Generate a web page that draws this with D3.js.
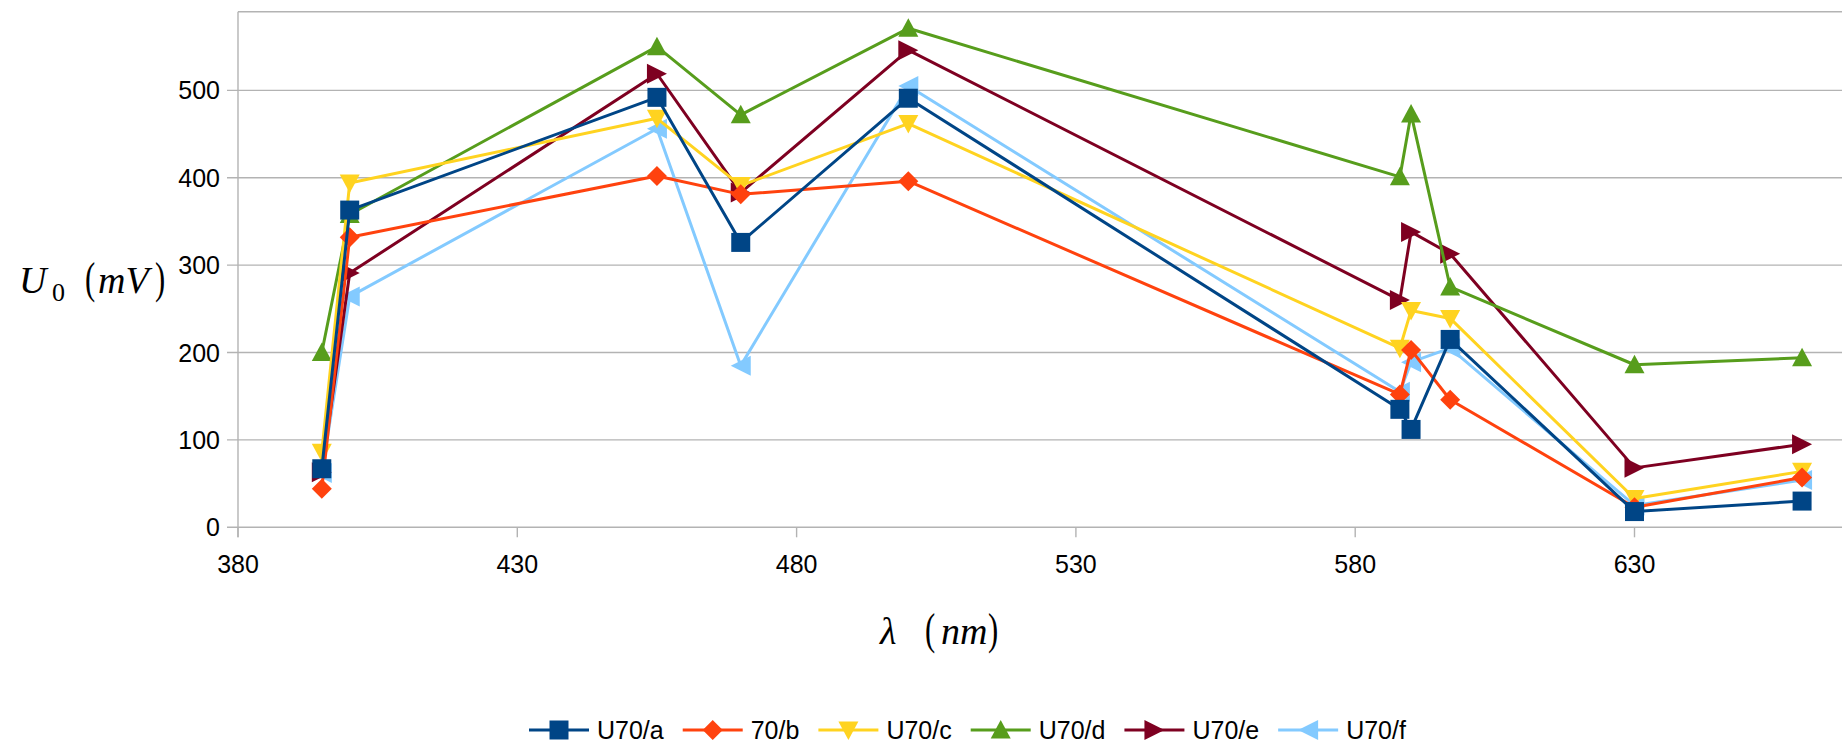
<!DOCTYPE html>
<html>
<head>
<meta charset="utf-8">
<script src="https://cdn.jsdelivr.net/npm/d3@7"></script>
<style>
  html, body { margin: 0; padding: 0; background: #fff; }
  svg { display: block; }
</style>
</head>
<body>
<svg id="chart" width="1842" height="745"></svg>
<script>
// ---- data ----
const wavelengths = [395, 400, 455, 470, 500, 588, 590, 597, 630, 660];
const seriesNames = ["U70/a", "70/b", "U70/c", "U70/d", "U70/e", "U70/f"];
const u70a = [67, 363, 492, 326, 491, 135, 112, 215, 18, 30];
const s70b = [44, 332, 402, 381, 396, 152, 203, 146, 23, 57];
const u70c = [86, 394, 468, 391, 462, 205, 248, 239, 33, 64];
const u70d = [200, 358, 550, 472, 571, 401, 473, 275, 186, 194];
const u70e = [63, 291, 519, 383, 546, 260, 338, 313, 68, 95];
const u70f = [62, 264, 456, 185, 505, 155, 189, 205, 25, 54];
const xTicks = [380, 430, 480, 530, 580, 630];
const yTicks = [0, 100, 200, 300, 400, 500];

(function () {
const seriesValues = [u70a, s70b, u70c, u70d, u70e, u70f];
const colors = ["#004586", "#ff420e", "#ffd320", "#579d1c", "#7e0021", "#83caff"];
const shapes = ["square", "diamond", "down", "up", "right", "left"];

function symbolPath(shape) {
  const h = 10;
  switch (shape) {
    case "square": { const s = 9.5; return `M${-s},${-s}H${s}V${s}H${-s}Z`; }
    case "diamond": return `M0,${-h}L${h},0L0,${h}L${-h},0Z`;
    case "up": return `M0,${-h}L${h},${h*0.85}L${-h},${h*0.85}Z`;
    case "down": return `M${-h},${-h*0.85}L${h},${-h*0.85}L0,${h}Z`;
    case "right": return `M${-h},${-h}L${h},0L${-h},${h}Z`;
    case "left": return `M${h},${-h}L${-h},0L${h},${h}Z`;
  }
}

const svg = d3.select("#chart");
const plotLeft = 238, plotTop = 11.7, plotBottom = 527.3;
const pxPerNm = 5.586;
const x = d3.scaleLinear().domain([380, 680]).range([plotLeft, plotLeft + 300 * pxPerNm]);
const y = d3.scaleLinear().domain([0, 590]).range([plotBottom, plotTop]);
const gridColor = "#b3b3b3";

// gridlines
svg.append("g").selectAll("line").data(yTicks.concat([590])).join("line")
  .attr("x1", d => d === 590 ? plotLeft : plotLeft - 11).attr("x2", 1842)
  .attr("y1", d => y(d)).attr("y2", d => y(d))
  .attr("stroke", gridColor).attr("stroke-width", 1.4);

// y axis line
svg.append("line").attr("x1", plotLeft).attr("x2", plotLeft).attr("y1", plotTop).attr("y2", plotBottom + 10)
  .attr("stroke", gridColor).attr("stroke-width", 1.4);

// x ticks
svg.append("g").selectAll("line").data(xTicks).join("line")
  .attr("x1", d => x(d)).attr("x2", d => x(d))
  .attr("y1", plotBottom).attr("y2", plotBottom + 10)
  .attr("stroke", gridColor).attr("stroke-width", 1.4);

const tickFont = "'Liberation Sans', Arial, sans-serif";
svg.append("g").selectAll("text").data(xTicks).join("text")
  .attr("x", d => x(d)).attr("y", 573)
  .attr("text-anchor", "middle")
  .attr("font-family", tickFont).attr("font-size", 25).attr("fill", "#000")
  .text(d => d);

svg.append("g").selectAll("text").data(yTicks).join("text")
  .attr("x", 220).attr("y", d => y(d) + 9)
  .attr("text-anchor", "end")
  .attr("font-family", tickFont).attr("font-size", 25).attr("fill", "#000")
  .text(d => d);

// axis titles (formula style)
const serif = "'Liberation Serif', 'Times New Roman', serif";
function paren(g, ch, px, base) {
  g.append("text").attr("transform", `translate(${px},${base}) scale(0.85,1.25)`)
    .attr("font-family", serif).attr("font-size", 36).text(ch);
}
const yl = svg.append("g");
yl.append("text").attr("x", 19).attr("y", 293).attr("font-family", serif)
  .attr("font-style", "italic").attr("font-size", 38).text("U");
yl.append("text").attr("x", 52).attr("y", 301).attr("font-family", serif)
  .attr("font-size", 26).text("0");
paren(yl, "(", 85, 293);
yl.append("text").attr("x", 98).attr("y", 293).attr("font-family", serif)
  .attr("font-style", "italic").attr("font-size", 38).text("mV");
paren(yl, ")", 155, 293);

const xl = svg.append("g");
xl.append("text").attr("x", 880).attr("y", 644).attr("font-family", serif)
  .attr("font-style", "italic").attr("font-size", 38).text("λ");
paren(xl, "(", 925, 644);
xl.append("text").attr("x", 941).attr("y", 644).attr("font-family", serif)
  .attr("font-style", "italic").attr("font-size", 38).text("nm");
paren(xl, ")", 988, 644);

// series (drawn last-to-first so the first series sits on top)
const plot = svg.append("g");
const line = d3.line().x(d => x(d[0])).y(d => y(d[1]));
for (let i = seriesNames.length - 1; i >= 0; i--) {
  const pts = wavelengths.map((w, j) => [w, seriesValues[i][j]]);
  const g = plot.append("g");
  g.append("path").datum(pts).attr("d", line)
    .attr("fill", "none").attr("stroke", colors[i]).attr("stroke-width", 3)
    .attr("stroke-linejoin", "round");
  g.selectAll("path.m").data(pts).join("path").attr("class", "m")
    .attr("transform", d => `translate(${x(d[0])},${y(d[1])})`)
    .attr("d", symbolPath(shapes[i])).attr("fill", colors[i]);
}

// legend
const lg = svg.append("g");
let lx = 529;
const ly = 730;
seriesNames.forEach((name, i) => {
  const item = lg.append("g");
  item.append("line").attr("x1", lx).attr("x2", lx + 60).attr("y1", ly).attr("y2", ly)
    .attr("stroke", colors[i]).attr("stroke-width", 3);
  item.append("path").attr("transform", `translate(${lx + 30},${ly})`)
    .attr("d", symbolPath(shapes[i])).attr("fill", colors[i]);
  const t = item.append("text").attr("x", lx + 68).attr("y", ly + 9)
    .attr("font-family", tickFont).attr("font-size", 25).attr("fill", "#000").text(name);
  lx += 68 + t.node().getComputedTextLength() + 19;
});
})();
</script>
</body>
</html>
